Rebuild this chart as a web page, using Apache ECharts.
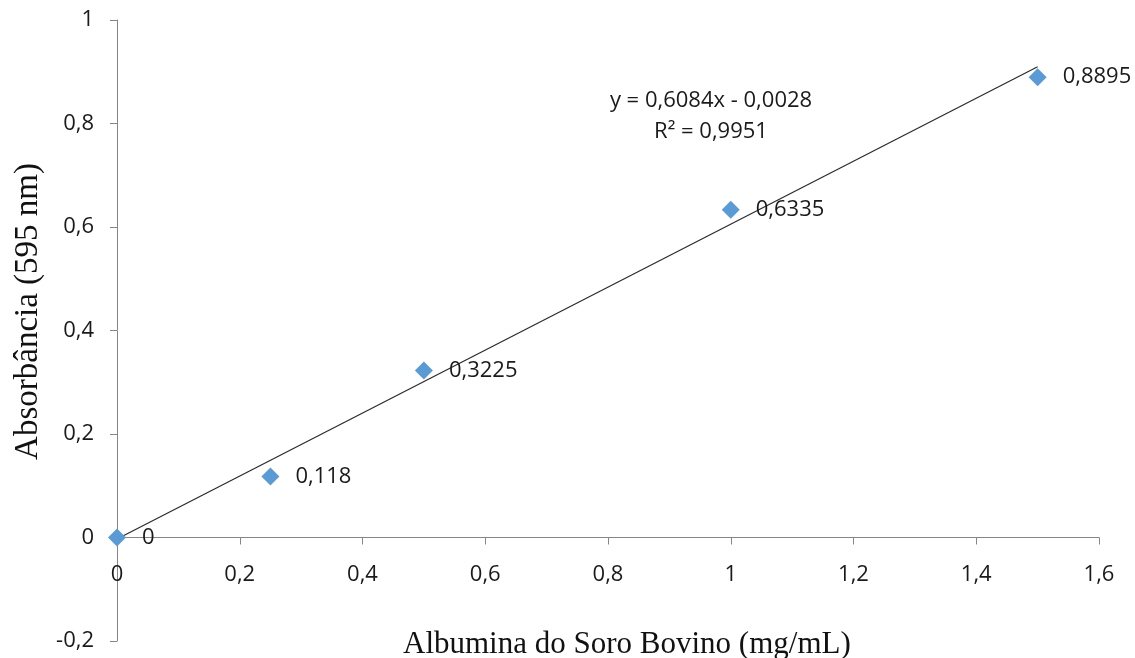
<!DOCTYPE html>
<html>
<head>
<meta charset="utf-8">
<script src="https://cdn.jsdelivr.net/npm/echarts@6/dist/echarts.min.js"></script>
<style>
  html, body { margin: 0; padding: 0; background: #fff; }
  #chart { width: 1135px; height: 658px; }
</style>
</head>
<body>
<div id="chart"></div>
<script>
// valores
var concentracao = [0, 0.25, 0.5, 1, 1.5];
var absorbancia = [0, 0.118, 0.3225, 0.6335, 0.8895];
var rotulos = ['0', '0,118', '0,3225', '0,6335', '0,8895'];

// linha de tendencia (extremos)
var tendenciaX = [0, 1.5];
var tendenciaY = [-0.0028, 0.9098];
var equacao = 'y = 0,6084x - 0,0028';
var r2 = 'R² = 0,9951';

var tituloX = 'Albumina do Soro Bovino (mg/mL)';
var tituloY = 'Absorbância (595 nm)';

var fmt = function (v) {
    return String(Math.round(v * 10) / 10).replace('.', ',');
};

var chart = echarts.init(document.getElementById('chart'));

var pontos = concentracao.map(function (x, i) {
    return { value: [x, absorbancia[i]], label: { formatter: rotulos[i] } };
});

var option = {
    animation: false,
    grid: { left: 117, right: 36, top: 20, bottom: 17, containLabel: false, outerBoundsMode: 'none' },
    xAxis: {
        type: 'value',
        min: 0, max: 1.6, interval: 0.2,
        offset: -103.5,
        axisLine: { show: true, onZero: false, lineStyle: { color: '#868686', width: 1 } },
        axisTick: { show: true, inside: false, length: 7, lineStyle: { color: '#868686' } },
        splitLine: { show: false },
        axisLabel: {
            color: '#1a1a1a', fontSize: 22, fontFamily: 'Open Sans', margin: 26,
            formatter: fmt
        }
    },
    yAxis: {
        type: 'value',
        min: -0.2, max: 1, interval: 0.2,
        axisLine: { show: true, onZero: false, lineStyle: { color: '#868686', width: 1 } },
        axisTick: { show: true, inside: false, length: 7, lineStyle: { color: '#868686' } },
        splitLine: { show: false },
        axisLabel: {
            color: '#1a1a1a', fontSize: 22, fontFamily: 'Open Sans', margin: 23,
            formatter: fmt
        }
    },
    series: [
        {
            type: 'line',
            data: tendenciaX.map(function (x, i) { return [x, tendenciaY[i]]; }),
            showSymbol: false,
            lineStyle: { color: '#2a2a2a', width: 1.2 },
            z: 1
        },
        {
            type: 'scatter',
            data: pontos,
            symbol: 'diamond',
            symbolSize: 18,
            itemStyle: { color: '#5b9bd5', opacity: 1 },
            label: {
                show: true, position: 'right', distance: 16,
                color: '#1a1a1a', fontSize: 22, fontFamily: 'Open Sans'
            },
            z: 2
        }
    ],
    graphic: [
        {
            type: 'text', x: 711, y: 101,
            style: { text: equacao, align: 'center', verticalAlign: 'middle', fontSize: 22, fontFamily: 'Open Sans', fill: '#1a1a1a' }
        },
        {
            type: 'text', x: 711, y: 132,
            style: { text: r2, align: 'center', verticalAlign: 'middle', fontSize: 22, fontFamily: 'Open Sans', fill: '#1a1a1a' }
        },
        {
            type: 'text', left: 403, top: 629,
            style: { text: tituloX, fontSize: 31, fontFamily: 'Liberation Serif', fill: '#111' }
        },
        {
            type: 'text', left: 12, top: 163,
            rotation: Math.PI / 2,
            style: { text: tituloY, fontSize: 33, fontFamily: 'Liberation Serif', fill: '#111' }
        }
    ]
};

chart.setOption(option);
</script>
</body>
</html>
